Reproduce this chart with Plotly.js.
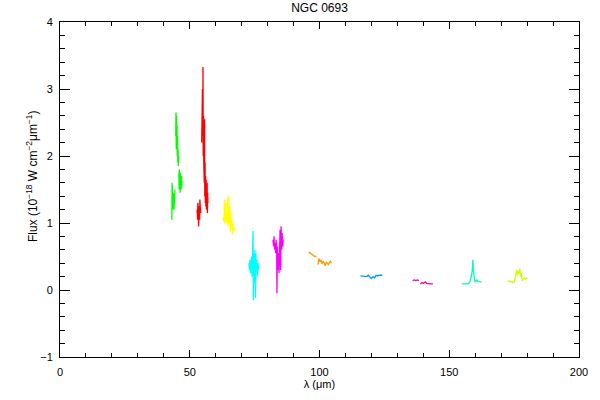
<!DOCTYPE html>
<html>
<head>
<meta charset="utf-8">
<script src="https://cdn.plot.ly/plotly-3.0.1.min.js"></script>
<style>html,body{margin:0;padding:0;background:#fff;} #plot{width:600px;height:400px;}</style>
</head>
<body>
<div id="plot"></div>
<script>
// Segment data (wavelength in micron, flux in 1e-18 W cm^-2 um^-1); null = gap between sub-bands
const greenX = [43.1,43.2,43.3,43.4,43.5,43.6,43.7,43.8,43.9,44.0,44.1,44.2,44.3,null,44.6,44.7,44.8,44.9,45.0,45.1,45.2,45.3,45.4,45.5,45.6,45.7,null,45.8,45.9,46.0,46.1,46.2,46.3,46.4,46.5,46.6,46.7,46.8,46.9,47.0,47.1];
const greenY = [1.05,1.6,1.1,1.4,1.2,1.45,1.25,1.35,1.2,1.3,1.4,1.25,1.5,null,2.3,2.65,2.1,2.6,2.2,2.45,2.0,2.3,1.9,2.1,1.85,2.0,null,1.75,1.5,1.8,1.55,1.7,1.45,1.75,1.6,1.65,1.5,1.7,1.55,1.62,1.6];

const redX = [52.8,52.9,53.0,53.1,53.2,53.3,53.4,53.5,53.6,53.7,53.8,53.9,54.0,54.1,54.2,null,54.6,54.7,54.8,54.9,55.0,55.1,55.2,55.3,55.4,55.5,55.6,55.7,55.8,55.9,56.0,56.1,56.2,56.3,56.4,56.5,56.6,56.7,56.8,56.9,57.0];
const redY = [1.15,1.2,1.05,1.3,1.1,1.2,0.95,1.15,1.0,1.25,1.05,1.35,1.1,1.2,1.15,null,2.2,2.95,2.2,3.0,2.3,3.33,2.0,2.6,1.9,2.5,1.6,2.55,1.4,1.9,1.3,1.7,1.25,1.65,1.2,1.55,1.3,1.6,1.15,1.45,1.3];

const yellowX = [62.8,63.0,63.2,63.4,63.6,63.8,64.0,64.2,64.4,64.6,64.8,65.0,65.2,65.4,65.6,65.8,66.0,66.2,66.4,66.6,66.8,67.0,67.2];
const yellowY = [1.05,1.08,1.02,1.35,0.98,1.3,1.05,1.1,1.0,1.38,0.95,1.4,1.0,1.25,0.88,1.15,0.95,1.05,0.82,1.0,0.9,0.95,0.88];

const cyanX = [72.8,73.0,73.2,73.4,73.6,73.8,74.0,74.2,74.4,74.5,74.7,74.9,75.1,75.3,75.5,75.7,75.9,76.1,76.3,76.5,76.7];
const cyanY = [0.4,0.3,0.45,0.25,0.35,0.5,0.2,0.55,0.88,-0.15,0.55,0.1,0.6,-0.12,0.55,0.3,0.45,0.2,0.4,0.3,0.35];

const magentaX = [82.1,82.3,82.5,82.7,82.9,83.1,83.3,83.5,83.6,83.8,84.0,84.2,84.4,84.6,84.8,85.0,85.2,85.4,85.6,85.8,86.0];
const magentaY = [0.75,0.65,0.8,0.6,0.7,0.55,0.75,0.6,-0.05,0.65,0.3,0.55,0.25,0.5,0.9,0.3,0.95,0.6,0.85,0.65,0.75];

const orangeX = [95.8,96.3,96.8,97.3,97.8,98.3,98.8,null,99.4,99.8,100.2,100.6,101.0,101.4,101.8,102.2,102.6,103.0,103.4,103.8,104.2,104.6];
const orangeY = [0.55,0.56,0.54,0.52,0.51,0.5,0.5,null,0.38,0.47,0.42,0.45,0.39,0.43,0.4,0.36,0.42,0.4,0.38,0.41,0.43,0.4];

const blueX = [115.8,116.4,117.0,117.6,118.2,118.8,119.4,120.0,120.6,121.2,121.8,122.4,123.0,123.6,124.2];
const blueY = [0.21,0.21,0.2,0.21,0.2,0.22,0.19,0.17,0.2,0.18,0.22,0.21,0.22,0.22,0.22];

const pinkX = [135.9,136.5,137.1,137.7,138.3,null,138.9,139.5,140.1,140.7,141.3,141.9,142.5,143.1,143.7];
const pinkY = [0.14,0.15,0.14,0.15,0.14,null,0.09,0.11,0.1,0.12,0.1,0.09,0.09,0.09,0.09];

const mintX = [154.9,155.5,156.1,156.7,157.3,157.9,158.3,158.6,158.9,159.1,159.3,159.5,159.8,160.1,160.5,161.0,161.5,162.0,162.5];
const mintY = [0.09,0.09,0.09,0.09,0.09,0.12,0.17,0.22,0.3,0.45,0.3,0.18,0.14,0.12,0.15,0.13,0.12,0.12,0.12];

const limeX = [172.6,173.1,173.6,174.1,174.6,175.1,175.6,176.0,176.3,176.6,176.9,177.2,177.5,177.8,178.1,178.5,178.9,179.3,179.7,180.1];
const limeY = [0.14,0.13,0.12,0.13,0.11,0.12,0.2,0.3,0.22,0.28,0.24,0.32,0.2,0.25,0.14,0.17,0.18,0.16,0.18,0.17];

const xTickVals = [0,50,100,150,200];
const yTickVals = [-1,0,1,2,3,4];

const segments = [
  [greenX, greenY, '#00ff00'],
  [redX, redY, '#ff0000'],
  [yellowX, yellowY, '#ffff00'],
  [cyanX, cyanY, '#00ffff'],
  [magentaX, magentaY, '#ff00ff'],
  [orangeX, orangeY, '#ff9900'],
  [blueX, blueY, '#0099ff'],
  [pinkX, pinkY, '#ff0099'],
  [mintX, mintY, '#00ffb4'],
  [limeX, limeY, '#ccff00']
];

const traces = segments.map(s => ({
  x: s[0], y: s[1], type: 'scatter', mode: 'lines', connectgaps: false,
  line: {color: s[2], width: 1.3}, hoverinfo: 'skip', showlegend: false
}));

const axisCommon = {
  showline: true, linecolor: '#000', linewidth: 1, mirror: 'allticks',
  ticks: 'inside', tickcolor: '#000', tickwidth: 1,
  showgrid: false, zeroline: false,
  tickfont: {family: 'Liberation Sans, Arial, sans-serif', size: 11, color: '#000'}
};

const layout = {
  width: 600, height: 400,
  margin: {l: 60, r: 21, t: 22, b: 43},
  paper_bgcolor: '#fff', plot_bgcolor: '#fff',
  font: {family: 'Liberation Sans, Arial, sans-serif', color: '#000'},
  title: {text: 'NGC 0693', font: {size: 12, color: '#000'}, x: 0.5, xref: 'paper', y: 0.99, yref: 'container', yanchor: 'top'},
  xaxis: Object.assign({}, axisCommon, {
    range: [0, 200], tickvals: xTickVals, ticklen: 7,
    minor: {dtick: 10, ticklen: 4, ticks: 'inside', tickcolor: '#000', showgrid: false},
    ticklabelstandoff: 5,
    title: {text: 'λ (μm)', font: {size: 11, color: '#000'}, standoff: 2}
  }),
  yaxis: Object.assign({}, axisCommon, {
    range: [-1, 4], tickvals: yTickVals, ticklen: 10,
    minor: {dtick: 0.2, ticklen: 5, ticks: 'inside', tickcolor: '#000', showgrid: false},
    ticklabelstandoff: 4
  }),
  annotations: [{
    text: 'Flux (10<sup>−18</sup> W cm<sup>−2</sup>μm<sup>−1</sup>)',
    xref: 'paper', yref: 'paper', x: 0, y: 0.54, xshift: -28,
    xanchor: 'center', yanchor: 'middle', textangle: -90, showarrow: false,
    font: {size: 12, color: '#000', family: 'Liberation Sans, Arial, sans-serif'}
  }]
};

Plotly.newPlot('plot', traces, layout, {staticPlot: true, displayModeBar: false});
</script>
</body>
</html>
